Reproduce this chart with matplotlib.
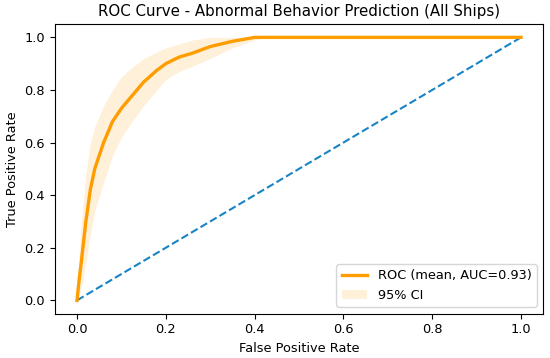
"""
ROC curve (mean + 95% CI band) for abnormal behaviour prediction.
"""
import matplotlib
matplotlib.use("Agg")
import matplotlib.pyplot as plt

# values
fpr = [0.0, 0.005, 0.01, 0.02, 0.03, 0.04, 0.06, 0.08, 0.10, 0.12, 0.15,
       0.18, 0.20, 0.23, 0.26, 0.30, 0.35, 0.40, 0.42, 1.0]
tpr_mean = [0.0, 0.08, 0.15, 0.30, 0.42, 0.50, 0.60, 0.68, 0.73, 0.77, 0.83,
            0.875, 0.90, 0.925, 0.94, 0.965, 0.985, 1.0, 1.0, 1.0]
tpr_upper = [0.0, 0.18, 0.30, 0.48, 0.60, 0.66, 0.74, 0.80, 0.85, 0.88, 0.92,
             0.945, 0.96, 0.975, 0.99, 1.0, 1.0, 1.0, 1.0, 1.0]
tpr_lower = [0.0, 0.02, 0.05, 0.14, 0.25, 0.34, 0.45, 0.55, 0.62, 0.67, 0.74,
             0.80, 0.84, 0.87, 0.89, 0.92, 0.96, 0.99, 1.0, 1.0]
auc = 0.93

plt.rcParams["font.size"] = 9.3

fig = plt.figure(figsize=(5.5, 3.58), dpi=100)
ax = fig.add_axes([0.0996, 0.1243, 0.888, 0.808])

ax.plot(fpr, tpr_mean, color="#ff9d00", linewidth=2.4,
        label=f"ROC (mean, AUC={auc:.2f})", zorder=3)
ax.fill_between(fpr, tpr_lower, tpr_upper, color="#ff9d00", alpha=0.15,
                linewidth=0, label="95% CI", zorder=2)
ax.plot([0, 1], [0, 1], linestyle="--", color="#1984c5", linewidth=1.5)

ax.set_xlim(-0.05, 1.05)
ax.set_ylim(-0.05, 1.05)
ax.set_xlabel("False Positive Rate")
ax.set_ylabel("True Positive Rate")
ax.set_title("ROC Curve - Abnormal Behavior Prediction (All Ships)", fontsize=10.8)
ax.legend(loc="lower right")

fig.savefig("out.png", dpi=100)
